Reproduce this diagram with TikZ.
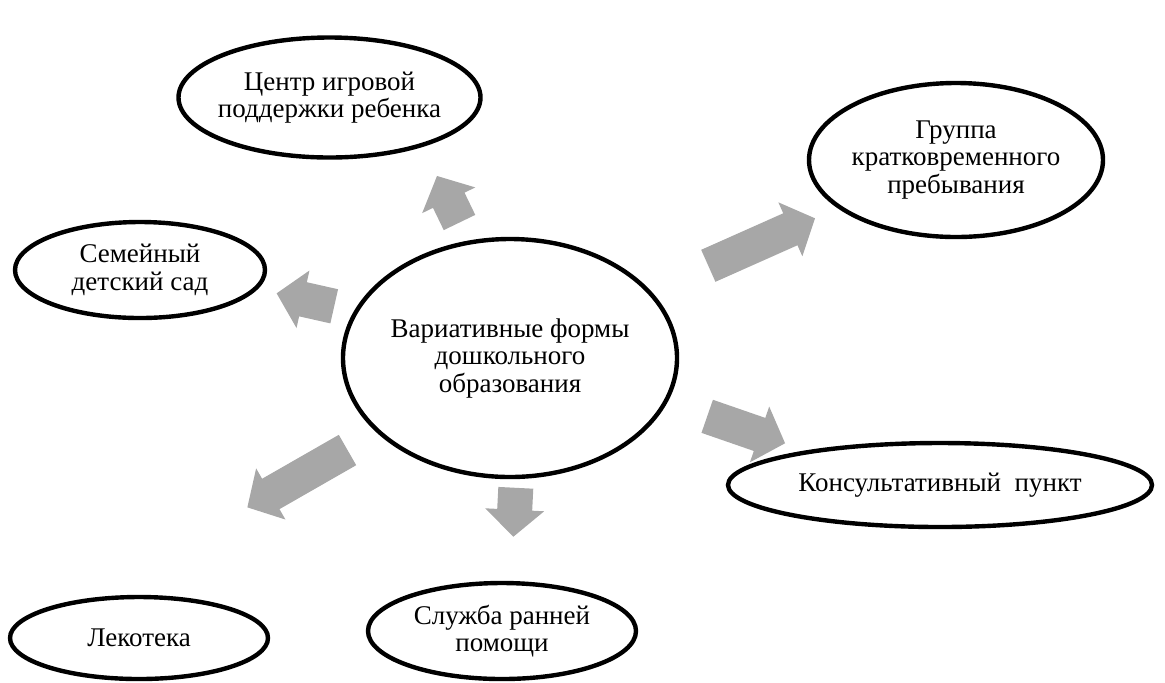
\documentclass[tikz,border=0pt]{standalone}
\usepackage{fontspec}
\setmainfont{Liberation Serif}
\definecolor{arrowgray}{RGB}{167,167,167}
\tikzset{
  ovaltext/.style={inner sep=0pt, align=center, font=\fontsize{13.5}{13.75}\selectfont},
  ovalline/.style={draw=black, line width=2.2pt},
  blockarrow/.style={fill=arrowgray, draw=none}
}
% #1 tail coordinate, #2 angle, #3 length (px)
\newcommand\grayarrow[3]{%
  \begin{scope}[shift={(#1)}, rotate=#2]
    \path[blockarrow] (0,-17.5) -- ({#3-27},-17.5) -- ({#3-27},-29.5) -- (#3,0)
      -- ({#3-27},29.5) -- ({#3-27},17.5) -- (0,17.5) -- cycle;
  \end{scope}}
\begin{document}
\begin{tikzpicture}[x=0.5pt, y=-0.5pt]
\useasboundingbox (0,0) rectangle (1165,682);
\node[ovaltext] (centr) at (329.5,97.5) {Центр игровой\\поддержки ребенка};
\node[ovaltext] (gruppa) at (956,160) {Группа\\кратковременного\\пребывания};
\node[ovaltext] (semya) at (140,270) {Семейный\\детский сад};
\node[ovaltext] (main) at (510,358) {Вариативные формы\\дошкольного\\образования};
\node[ovaltext] (konsult) at (940,485) {Консультативный\ \ пункт};
\node[ovaltext] (lekoteka) at (139,638) {Лекотека};
\node[ovaltext] (sluzhba) at (502,631) {Служба ранней\\помощи};
\draw[ovalline] (centr.center) ellipse [x radius=151, y radius=60];
\draw[ovalline] (gruppa.center) ellipse [x radius=147, y radius=77];
\draw[ovalline] (semya.center) ellipse [x radius=125, y radius=48];
\draw[ovalline] (main.center) ellipse [x radius=167, y radius=119];
\draw[ovalline] (konsult.center) ellipse [x radius=212, y radius=42];
\draw[ovalline] (lekoteka.center) ellipse [x radius=129, y radius=41];
\draw[ovalline] (sluzhba.center) ellipse [x radius=134, y radius=48];
\coordinate (a1) at (459.5,222.5);
\coordinate (a2) at (708.3,265.8);
\coordinate (a3) at (707.2,416.3);
\coordinate (a4) at (347.5,450);
\coordinate (a5) at (515.8,487.8);
\coordinate (a6) at (334.2,306.3);
\grayarrow{a1}{115.8}{51.7}
\grayarrow{a2}{24.0}{116.8}
\grayarrow{a3}{-19.1}{82.4}
\grayarrow{a4}{209.8}{115.4}
\grayarrow{a5}{267.1}{49}
\grayarrow{a6}{167.3}{59}
\end{tikzpicture}
\end{document}
